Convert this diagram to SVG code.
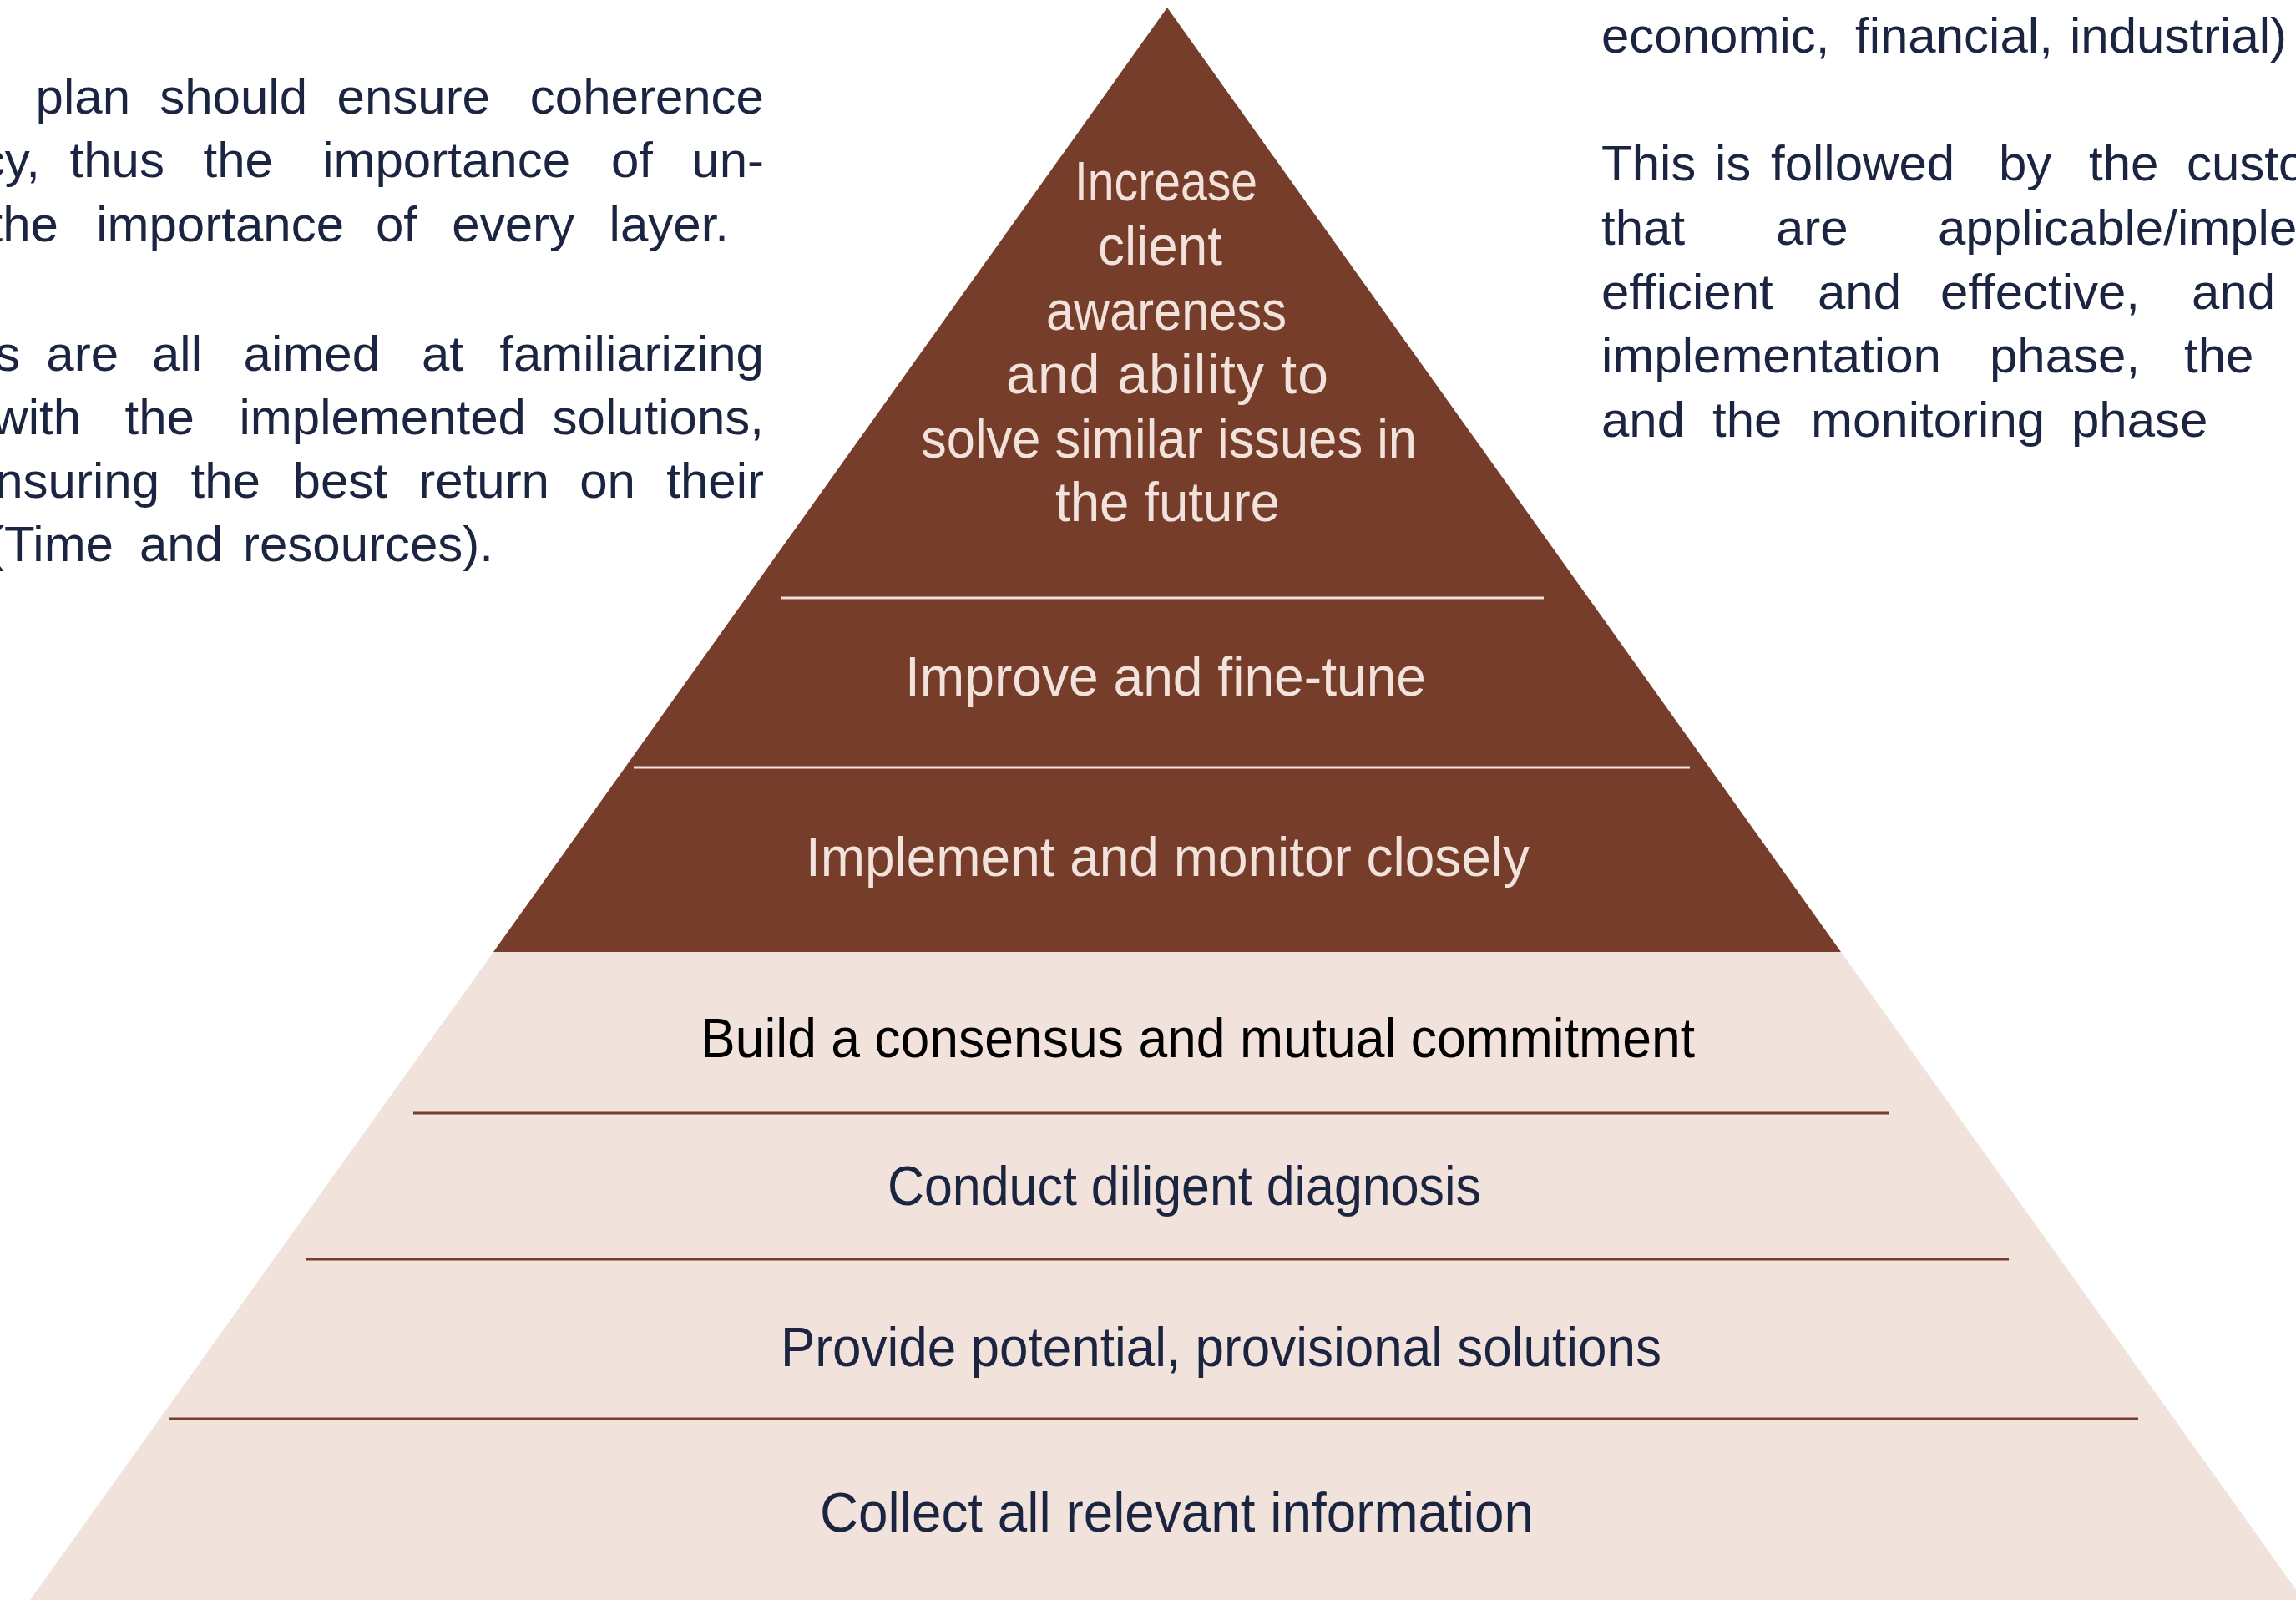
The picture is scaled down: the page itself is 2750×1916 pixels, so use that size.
<svg xmlns="http://www.w3.org/2000/svg" width="2750" height="1916" viewBox="0 0 2750 1916">
<style>
text{font-family:"Liberation Sans",Arial,sans-serif}
.body{font-size:60px;fill:#1B2541}
.bl{text-anchor:end}
.dk{font-size:66px;fill:#F1E2DC}
.lt{font-size:66px;fill:#1B2541}
.sepD{stroke:#F1E2DC;stroke-width:3}
.sepL{stroke:#763D2B;stroke-width:3}
</style>
<rect width="2750" height="1916" fill="#FFFFFF"/>

<g id="left-text" class="body bl">
<text><tspan x="156" y="136">plan</tspan><tspan x="368" y="136">should</tspan><tspan x="587" y="136">ensure</tspan><tspan x="915" y="136">coherence</tspan></text>
<text><tspan x="48" y="212">cy,</tspan><tspan x="197" y="212">thus</tspan><tspan x="327" y="212">the</tspan><tspan x="683" y="212">importance</tspan><tspan x="782" y="212">of</tspan><tspan x="915" y="212">un-</tspan></text>
<text><tspan x="70" y="289">the</tspan><tspan x="412" y="289">importance</tspan><tspan x="500" y="289">of</tspan><tspan x="688" y="289">every</tspan><tspan x="873" y="289">layer.</tspan></text>
<text><tspan x="24" y="444">s</tspan><tspan x="142" y="444">are</tspan><tspan x="242" y="444">all</tspan><tspan x="455" y="444">aimed</tspan><tspan x="555" y="444">at</tspan><tspan x="915" y="444">familiarizing</tspan></text>
<text><tspan x="97" y="520">with</tspan><tspan x="233" y="520">the</tspan><tspan x="630" y="520">implemented</tspan><tspan x="915" y="520">solutions,</tspan></text>
<text><tspan x="191" y="596">ensuring</tspan><tspan x="312" y="596">the</tspan><tspan x="464" y="596">best</tspan><tspan x="658" y="596">return</tspan><tspan x="761" y="596">on</tspan><tspan x="915" y="596">their</tspan></text>
<text><tspan x="136" y="672">(Time</tspan><tspan x="267" y="672">and</tspan><tspan x="591" y="672">resources).</tspan></text>
</g>

<g id="right-text" class="body">
<text><tspan x="1918" y="63">economic,</tspan><tspan x="2222" y="63">financial,</tspan><tspan x="2479" y="63">industrial)</tspan></text>
<text><tspan x="1918" y="216">This</tspan><tspan x="2054" y="216">is</tspan><tspan x="2121" y="216">followed</tspan><tspan x="2394" y="216">by</tspan><tspan x="2502" y="216">the</tspan><tspan x="2619" y="216">custo</tspan></text>
<text><tspan x="1918" y="293">that</tspan><tspan x="2127" y="293">are</tspan><tspan x="2321" y="293">applicable/imple</tspan></text>
<text><tspan x="1918" y="370">efficient</tspan><tspan x="2177" y="370">and</tspan><tspan x="2324" y="370">effective,</tspan><tspan x="2625" y="370">and</tspan></text>
<text><tspan x="1918" y="446">implementation</tspan><tspan x="2383" y="446">phase,</tspan><tspan x="2616" y="446">the</tspan></text>
<text><tspan x="1918" y="523">and</tspan><tspan x="2051" y="523">the</tspan><tspan x="2169" y="523">monitoring</tspan><tspan x="2481" y="523">phase</tspan></text>
</g>

<g id="layer-top">
<polygon points="1398,9 2205,1140 591,1140" fill="#763D2B"/>
</g>
<g id="layer-base">
<polygon points="591,1140 2205,1140 2759,1916 36,1916" fill="#F1E2DC"/>
</g>

<g id="separators">
<line class="sepD" x1="935" y1="716" x2="1849" y2="716"/>
<line class="sepD" x1="759" y1="919" x2="2024" y2="919"/>
<line class="sepL" x1="495" y1="1333" x2="2263" y2="1333"/>
<line class="sepL" x1="367" y1="1508" x2="2406" y2="1508"/>
<line class="sepL" x1="202" y1="1699" x2="2561" y2="1699"/>
</g>

<g id="node-awareness" class="dk">
<text x="1287" y="240" textLength="219" lengthAdjust="spacingAndGlyphs">Increase</text>
<text x="1315" y="317" textLength="149" lengthAdjust="spacingAndGlyphs">client</text>
<text x="1253" y="395" textLength="288" lengthAdjust="spacingAndGlyphs">awareness</text>
<text x="1205" y="471" textLength="386" lengthAdjust="spacing">and ability to</text>
<text x="1103" y="548" textLength="594" lengthAdjust="spacingAndGlyphs">solve similar issues in</text>
<text x="1264" y="624" textLength="269" lengthAdjust="spacingAndGlyphs">the future</text>
</g>
<g id="node-improve" class="dk">
<text x="1084" y="833" textLength="624" lengthAdjust="spacingAndGlyphs">Improve and fine-tune</text>
</g>
<g id="node-implement" class="dk">
<text x="965" y="1049" textLength="867" lengthAdjust="spacingAndGlyphs">Implement and monitor closely</text>
</g>
<g id="node-consensus" class="lt">
<text x="839" y="1266" textLength="1191" lengthAdjust="spacingAndGlyphs" fill="#000000">Build a consensus and mutual commitment</text>
</g>
<g id="node-diagnosis" class="lt">
<text x="1063" y="1443" textLength="711" lengthAdjust="spacingAndGlyphs">Conduct diligent diagnosis</text>
</g>
<g id="node-solutions" class="lt">
<text x="935" y="1636" textLength="1055" lengthAdjust="spacingAndGlyphs">Provide potential, provisional solutions</text>
</g>
<g id="node-collect" class="lt">
<text x="982" y="1834" textLength="855" lengthAdjust="spacingAndGlyphs">Collect all relevant information</text>
</g>
</svg>
